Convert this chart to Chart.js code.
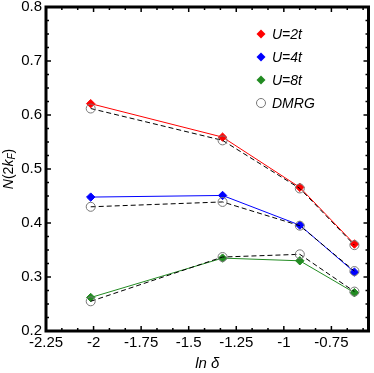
<!DOCTYPE html>
<html>
<head>
<meta charset="utf-8">
<script src="https://cdn.jsdelivr.net/npm/chart.js@4.4.0/dist/chart.umd.min.js"></script>
<style>
  html, body { margin: 0; padding: 0; background: #fff; }
  #wrap { width: 374px; height: 373px; }
</style>
</head>
<body>
<div id="wrap"><canvas id="chart" width="374" height="373"></canvas></div>
<script>
// N(2kF) vs ln(delta), variational results vs DMRG

const lnDelta = [-2.015, -1.322, -0.916, -0.629];

const u2t = [0.621, 0.559, 0.466, 0.361];
const u4t = [0.448, 0.451, 0.396, 0.309];
const u8t = [0.262, 0.335, 0.330, 0.271];

const dmrgU2 = [0.612, 0.553, 0.464, 0.359];
const dmrgU4 = [0.430, 0.439, 0.395, 0.311];
const dmrgU8 = [0.255, 0.337, 0.342, 0.273];

const xTicks = [-2.25, -2, -1.75, -1.5, -1.25, -1, -0.75];
const yTicks = [0.2, 0.3, 0.4, 0.5, 0.6, 0.7, 0.8];

const legendLabels = ['U=2t', 'U=4t', 'U=8t', 'DMRG'];
const legendColors = ['#ff0000', '#0000ff', '#228b22', '#777777'];

const FONT = "'Liberation Sans', Arial, Helvetica, sans-serif";

function pts(ys) {
  return lnDelta.map((x, i) => ({ x: x, y: ys[i] }));
}

function modelSet(label, ys, color) {
  return {
    label, data: pts(ys), order: 2,
    borderColor: color, backgroundColor: color, borderWidth: 1,
    pointStyle: 'rectRot', pointRadius: 4.2, pointBorderWidth: 1,
    pointBorderColor: color, pointBackgroundColor: color
  };
}

function dmrgSet(ys) {
  return {
    label: 'DMRG', data: pts(ys), order: 1,
    borderColor: '#000', borderWidth: 1, borderDash: [5, 3],
    pointStyle: 'circle', pointRadius: 4.5, pointBorderWidth: 1,
    pointBorderColor: '#777', pointBackgroundColor: 'rgba(0,0,0,0)'
  };
}

// frame, inward ticks, legend and y title
const decor = {
  id: 'decor',
  afterDraw(chart) {
    const ctx = chart.ctx;
    const a = chart.chartArea;
    const xs = chart.scales.x, ys = chart.scales.y;
    ctx.save();
    ctx.strokeStyle = '#000';

    // x ticks (bottom + top), 3 subdivisions
    ctx.lineWidth = 1.5;
    for (let i = 0; i < 3 * 7 + 1; i++) {
      const v = -2.25 + i * 0.25 / 3;
      if (v > xs.max) break;
      const px = xs.getPixelForValue(v);
      const len = (i % 3 === 0) ? 5 : 3;
      ctx.beginPath();
      ctx.moveTo(px, a.bottom); ctx.lineTo(px, a.bottom - len);
      ctx.moveTo(px, a.top); ctx.lineTo(px, a.top + len);
      ctx.stroke();
    }
    // y ticks (left + right), 4 subdivisions
    for (let i = 0; i <= 24; i++) {
      const v = 0.2 + i * 0.025;
      const py = ys.getPixelForValue(v);
      const len = (i % 4 === 0) ? 5 : 3;
      ctx.beginPath();
      ctx.moveTo(a.left, py); ctx.lineTo(a.left + len, py);
      ctx.moveTo(a.right, py); ctx.lineTo(a.right - len, py);
      ctx.stroke();
    }

    // frame
    ctx.lineWidth = 3;
    ctx.strokeRect(a.left, a.top, a.right - a.left, a.bottom - a.top);

    // legend
    const lx = 261, ly0 = 34, dy = 23;
    ctx.font = 'italic 14px ' + FONT;
    ctx.textBaseline = 'middle';
    ctx.textAlign = 'left';
    legendLabels.forEach((lab, i) => {
      const y = ly0 + i * dy;
      ctx.lineWidth = 1;
      if (i < 3) {
        ctx.fillStyle = legendColors[i];
        ctx.beginPath();
        ctx.moveTo(lx, y - 4.5); ctx.lineTo(lx + 4.5, y);
        ctx.lineTo(lx, y + 4.5); ctx.lineTo(lx - 4.5, y);
        ctx.closePath(); ctx.fill();
      } else {
        ctx.strokeStyle = legendColors[i];
        ctx.beginPath();
        ctx.arc(lx, y, 4.5, 0, Math.PI * 2);
        ctx.stroke();
      }
      ctx.fillStyle = '#000';
      ctx.fillText(lab, 272, y + 1);
    });

    // y title N(2k_F)
    ctx.translate(9, (a.top + a.bottom) / 2);
    ctx.rotate(-Math.PI / 2);
    const parts = [
      { t: 'N', f: 'italic 14px ', dy: 0 },
      { t: '(2', f: '14px ', dy: 0 },
      { t: 'k', f: 'italic 14px ', dy: 0 },
      { t: 'F', f: 'italic 10px ', dy: 3 },
      { t: ')', f: '14px ', dy: 0 }
    ];
    let w = 0;
    parts.forEach(p => { ctx.font = p.f + FONT; w += ctx.measureText(p.t).width; });
    let x = -w / 2;
    ctx.fillStyle = '#000';
    parts.forEach(p => {
      ctx.font = p.f + FONT;
      ctx.fillText(p.t, x, p.dy);
      x += ctx.measureText(p.t).width;
    });
    ctx.restore();
  }
};

new Chart(document.getElementById('chart'), {
  type: 'line',
  data: {
    datasets: [
      modelSet('U=2t', u2t, '#ff0000'),
      modelSet('U=4t', u4t, '#0000ff'),
      modelSet('U=8t', u8t, '#228b22'),
      dmrgSet(dmrgU2),
      dmrgSet(dmrgU4),
      dmrgSet(dmrgU8)
    ]
  },
  options: {
    responsive: false,
    animation: false,
    layout: { padding: { top: 7, right: 3, left: 0, bottom: 0 } },
    plugins: { legend: { display: false }, tooltip: { enabled: false } },
    scales: {
      x: {
        type: 'linear', min: -2.25, max: -0.555,
        grid: { display: false, drawTicks: false },
        border: { display: false },
        afterBuildTicks: s => { s.ticks = xTicks.map(v => ({ value: v })); },
        afterFit: s => { s.height = 42; s.paddingLeft = 0; s.paddingRight = 0; },
        ticks: {
          color: '#000', padding: 3, maxRotation: 0, autoSkip: false,
          font: { family: FONT, size: 15 },
          callback: v => String(v)
        },
        title: {
          display: true, text: 'ln δ', color: '#000', padding: 0,
          font: { family: FONT, size: 15, style: 'italic' }
        }
      },
      y: {
        type: 'linear', min: 0.2, max: 0.8,
        grid: { display: false, drawTicks: false },
        border: { display: false },
        afterBuildTicks: s => { s.ticks = yTicks.map(v => ({ value: v })); },
        afterFit: s => { s.width = 46; s.paddingTop = 0; s.paddingBottom = 0; },
        ticks: {
          color: '#000', padding: 4,
          font: { family: FONT, size: 15 },
          callback: v => v.toFixed(1)
        }
      }
    }
  },
  plugins: [decor]
});
</script>
</body>
</html>
